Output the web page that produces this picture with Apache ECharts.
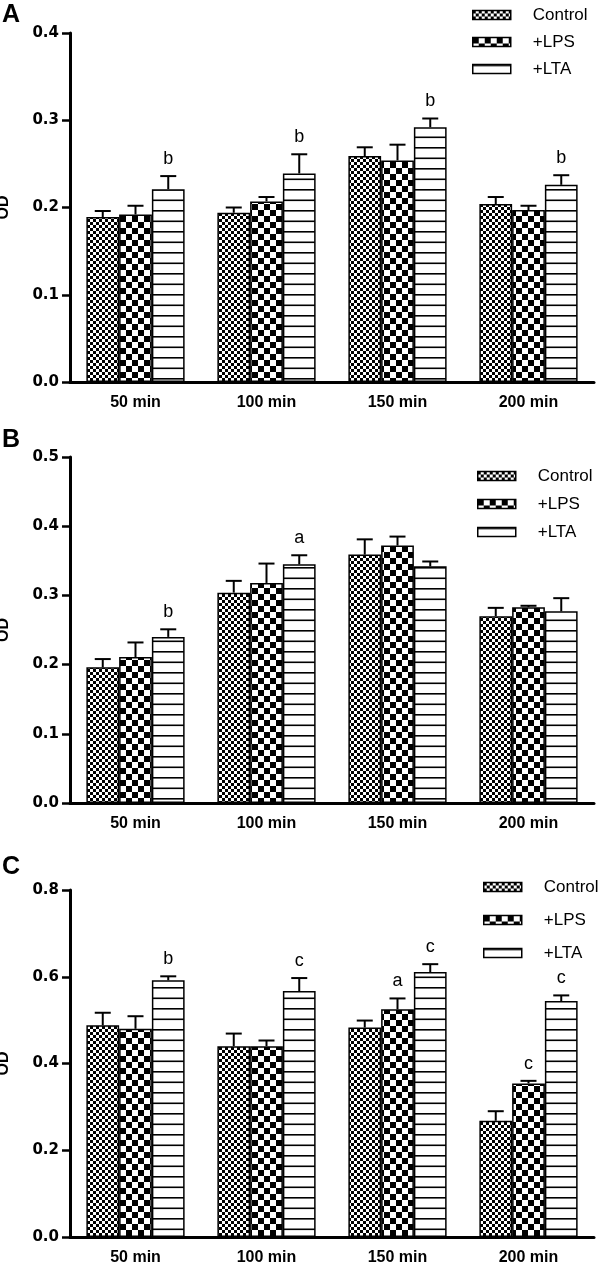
<!DOCTYPE html>
<html>
<head>
<meta charset="utf-8">
<script src="https://cdn.jsdelivr.net/npm/echarts@6/dist/echarts.min.js"></script>
<style>html,body{margin:0;padding:0;background:#fff}#c{width:600px;height:1270px}</style>
</head>
<body>
<div id="c"></div>
<script>
// ---------- data ----------
const categories = ['50 min', '100 min', '150 min', '200 min'];
const groups = ['Control', '+LPS', '+LTA'];

// Panel A (mean, SEM)
const A_control = [0.189, 0.194, 0.259, 0.204];
const A_controlErr = [0.007, 0.006, 0.010, 0.008];
const A_lps = [0.192, 0.207, 0.254, 0.197];
const A_lpsErr = [0.010, 0.005, 0.018, 0.005];
const A_lta = [0.221, 0.239, 0.292, 0.226];
const A_ltaErr = [0.015, 0.022, 0.010, 0.011];
const A_letters = [['', '', '', ''], ['', '', '', ''], ['b', 'b', 'b', 'b']];

// Panel B
const B_control = [0.196, 0.304, 0.359, 0.270];
const B_controlErr = [0.012, 0.017, 0.022, 0.012];
const B_lps = [0.211, 0.318, 0.372, 0.283];
const B_lpsErr = [0.021, 0.028, 0.013, 0.002];
const B_lta = [0.240, 0.345, 0.342, 0.277];
const B_ltaErr = [0.011, 0.013, 0.007, 0.019];
const B_letters = [['', '', '', ''], ['', '', '', ''], ['b', 'a', '', '']];

// Panel C
const C_control = [0.488, 0.440, 0.483, 0.268];
const C_controlErr = [0.029, 0.029, 0.016, 0.022];
const C_lps = [0.480, 0.440, 0.525, 0.354];
const C_lpsErr = [0.029, 0.013, 0.025, 0.006];
const C_lta = [0.592, 0.567, 0.611, 0.544];
const C_ltaErr = [0.009, 0.030, 0.018, 0.013];
const C_letters = [['', '', '', ''], ['', '', 'a', 'c'], ['b', 'c', 'c', 'c']];

const yMaxA = 0.4, yStepA = 0.1;
const yMaxB = 0.5, yStepB = 0.1;
const yMaxC = 0.8, yStepC = 0.2;
const panelLetters = ['A', 'B', 'C'];

// ---------- patterns ----------
function checker(cell) {
  const c = document.createElement('canvas');
  c.width = c.height = cell * 2;
  const g = c.getContext('2d');
  g.fillStyle = '#fff'; g.fillRect(0, 0, cell * 2, cell * 2);
  g.fillStyle = '#000';
  g.fillRect(0, 0, cell, cell); g.fillRect(cell, cell, cell, cell);
  return c;
}
function hlines() {
  const c = document.createElement('canvas');
  c.width = 4; c.height = 21;
  const g = c.getContext('2d');
  g.fillStyle = '#fff'; g.fillRect(0, 0, 4, 21);
  g.fillStyle = '#000';
  g.fillRect(0, 0, 4, 1.6); g.fillRect(0, 10.5, 4, 1.6);
  return c;
}
const patterns = [
  { image: checker(3), repeat: 'repeat' },
  { image: checker(6), repeat: 'repeat' },
  { image: hlines(), repeat: 'repeat' }
];

// ---------- layout ----------
const gridBase = { left: 70, right: 6, containLabel: false, outerBoundsMode: 'none' };
const grids = [
  Object.assign({ top: 33, height: 349 }, gridBase),
  Object.assign({ top: 457, height: 346 }, gridBase),
  Object.assign({ top: 890, height: 347 }, gridBase)
];
const yCfg = [[yMaxA, yStepA], [yMaxB, yStepB], [yMaxC, yStepC]];
const panels = [
  [[A_control, A_lps, A_lta], [A_controlErr, A_lpsErr, A_ltaErr], A_letters],
  [[B_control, B_lps, B_lta], [B_controlErr, B_lpsErr, B_ltaErr], B_letters],
  [[C_control, C_lps, C_lta], [C_controlErr, C_lpsErr, C_ltaErr], C_letters]
];

const xAxes = [], yAxes = [], series = [];
panels.forEach((p, i) => {
  xAxes.push({
    type: 'category', gridIndex: i, data: categories,
    axisLine: { lineStyle: { color: '#000', width: 3 } },
    axisTick: { alignWithLabel: true, length: 8, lineStyle: { color: '#000', width: 2.5 } },
    axisLabel: { color: '#000', fontFamily: 'Liberation Sans', fontWeight: 'bold', fontSize: 16, margin: 13 }
  });
  yAxes.push({
    type: 'value', gridIndex: i, min: 0, max: yCfg[i][0], interval: yCfg[i][1],
    name: 'OD', nameLocation: 'middle', nameGap: 58, nameRotate: 90,
    nameTextStyle: { color: '#000', fontFamily: 'Liberation Sans', fontWeight: 'bold', fontSize: 16 },
    axisLine: { show: true, lineStyle: { color: '#000', width: 3 } },
    axisTick: { show: true, length: 8, lineStyle: { color: '#000', width: 2.5 } },
    splitLine: { show: false },
    axisLabel: { color: '#000', fontFamily: 'DejaVu Sans', fontWeight: 'bold', fontSize: 15, margin: 11,
      formatter: v => v.toFixed(1) }
  });
  const [vals, errs, letters] = p;
  groups.forEach((name, s) => {
    series.push({
      name, type: 'bar', xAxisIndex: i, yAxisIndex: i, data: vals[s],
      barGap: '0%', barCategoryGap: '25%',
      itemStyle: { color: patterns[s], borderColor: '#000', borderWidth: 1.5 },
      emphasis: { disabled: true }, silent: true
    });
  });
  const items = [];
  groups.forEach((name, s) => categories.forEach((c, ci) => {
    items.push([ci, s, vals[s][ci], errs[s][ci], letters[s][ci]]);
  }));
  series.push({
    type: 'custom', xAxisIndex: i, yAxisIndex: i, z: 10, silent: true,
    data: items.map(d => [d[0], d[2] + d[3]]),
    encode: { x: 0, y: 1 },
    renderItem: (params, api) => {
      const d = items[params.dataIndex];
      const top = api.coord([d[0], d[2]]);
      const ep = api.coord([d[0], d[2] + d[3]]);
      const band = api.size([1, 0])[0];
      const bw = band * 0.75 / 3;
      const x = top[0] + (d[1] - 1) * bw;
      const ls = { stroke: '#000', lineWidth: 2 };
      const children = [
        { type: 'line', shape: { x1: x, y1: top[1], x2: x, y2: ep[1] }, style: ls },
        { type: 'line', shape: { x1: x - 8, y1: ep[1], x2: x + 8, y2: ep[1] }, style: ls }
      ];
      if (d[4]) {
        children.push({ type: 'text', x: x, y: ep[1] - 8,
          style: { text: d[4], align: 'center', verticalAlign: 'bottom',
            font: '18px "Liberation Sans"', fill: '#000' } });
      }
      return { type: 'group', children };
    }
  });
});

const legendPos = [
  { left: 472, top: 5, itemGap: 7 },
  { left: 477, top: 466, itemGap: 8 },
  { left: 483, top: 877, itemGap: 13 }
];
const legends = legendPos.map(lp => ({
  orient: 'vertical', left: lp.left, top: lp.top, itemGap: lp.itemGap, padding: 0,
  data: groups, icon: 'rect', itemWidth: 38, itemHeight: 9, selectedMode: false,
  itemStyle: { borderColor: '#000', borderWidth: 1.5 },
  textStyle: { color: '#000', fontFamily: 'Liberation Sans', fontSize: 17, lineHeight: 20, padding: [0, 0, 0, 17] }
}));

const graphic = [
  { type: 'text', left: 2, top: 3, style: { text: panelLetters[0], font: 'bold 25px "Liberation Sans"', fill: '#000' } },
  { type: 'text', left: 2, top: 428, style: { text: panelLetters[1], font: 'bold 25px "Liberation Sans"', fill: '#000' } },
  { type: 'text', left: 2, top: 855, style: { text: panelLetters[2], font: 'bold 25px "Liberation Sans"', fill: '#000' } }
];

const chart = echarts.init(document.getElementById('c'), null, { renderer: 'canvas' });
chart.setOption({
  animation: false,
  backgroundColor: '#fff',
  grid: grids, xAxis: xAxes, yAxis: yAxes, series, legend: legends, graphic
});
</script>
</body>
</html>
